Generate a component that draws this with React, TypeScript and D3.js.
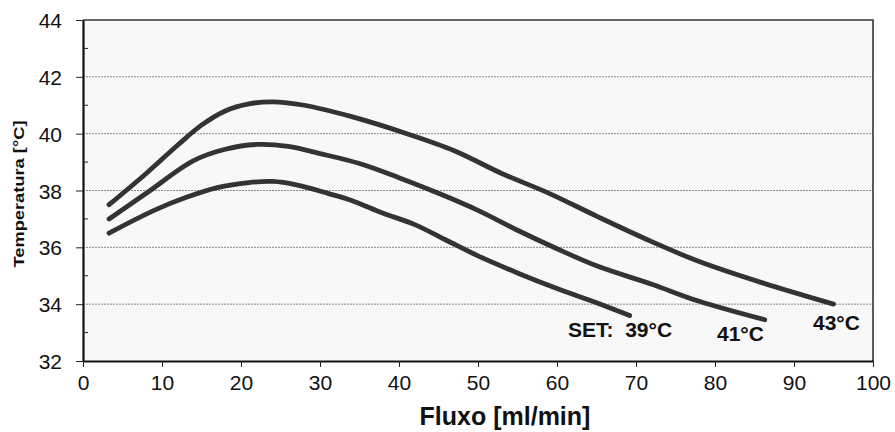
import React, { useRef, useEffect } from "react";
import * as d3 from "d3";

// flow [ml/min] vs temperature [°C], one curve per set point
const set43x = [3.3, 8, 12, 15, 18, 21, 24, 28, 34, 41, 47, 53, 59, 65, 72, 78, 86, 95];
const set43y = [37.5, 38.6, 39.6, 40.3, 40.8, 41.05, 41.12, 41.0, 40.6, 40.0, 39.4, 38.6, 37.9, 37.1, 36.2, 35.5, 34.75, 34.0];

const set41x = [3.3, 8, 14, 18, 22, 26, 30, 35, 40, 45, 50, 55, 60, 65, 72, 78, 86.3];
const set41y = [37.0, 37.9, 39.05, 39.45, 39.62, 39.55, 39.3, 38.95, 38.45, 37.9, 37.3, 36.6, 35.95, 35.35, 34.7, 34.1, 33.45];

const set39x = [3.3, 9, 13, 17, 21, 24, 27, 31, 34, 38, 42, 46, 50, 55, 60, 65, 69.2];
const set39y = [36.5, 37.3, 37.75, 38.1, 38.28, 38.32, 38.2, 37.9, 37.65, 37.2, 36.8, 36.25, 35.7, 35.1, 34.55, 34.05, 33.6];

const xTicks = [0, 10, 20, 30, 40, 50, 60, 70, 80, 90, 100];
const yTicks = [32, 34, 36, 38, 40, 42, 44];
const yMinor = [33, 35, 37, 39, 41, 43];
const gridValues = [34, 36, 38, 40, 42];

const curveLabels = ["SET:  39°C", "41°C", "43°C"];

const W = 895, H = 432;
const left = 83, right = 873, top = 20, bottom = 361;

export default function App() {
  const svgRef = useRef<SVGSVGElement>(null);

  useEffect(() => {
    const svg = d3.select(svgRef.current);
    svg.selectAll("*").remove();

    const x = d3.scaleLinear().domain([0, 100]).range([left, right]);
    const y = d3.scaleLinear().domain([32, 44]).range([bottom, top]);
    const font = "Liberation Sans, Arial, sans-serif";

    svg.append("rect")
      .attr("x", left).attr("y", top)
      .attr("width", right - left).attr("height", bottom - top)
      .attr("fill", "#f8f8f8");

    svg.append("g").selectAll("line").data(gridValues).enter().append("line")
      .attr("x1", left).attr("x2", right)
      .attr("y1", d => y(d)).attr("y2", d => y(d))
      .attr("stroke", "#8a8a8a").attr("stroke-width", 1)
      .attr("stroke-dasharray", "2,1");

    // frame top & right
    svg.append("path")
      .attr("d", `M${left},${top}H${right}V${bottom}`)
      .attr("fill", "none").attr("stroke", "#333").attr("stroke-width", 1.6);

    // x axis
    const xAxis = svg.append("g")
      .attr("transform", `translate(0,${bottom})`)
      .call(d3.axisBottom(x).tickValues(xTicks).tickSize(6).tickSizeOuter(0).tickFormat(d3.format("d")));
    xAxis.select(".domain").attr("stroke", "#111").attr("stroke-width", 2.2);
    xAxis.selectAll(".tick line").attr("stroke", "#222");
    xAxis.selectAll("text")
      .attr("font-family", font).attr("font-size", 21).attr("fill", "#111")
      .attr("y", 14).attr("dy", "0.71em");

    // y axis
    const yAxis = svg.append("g")
      .attr("transform", `translate(${left},0)`)
      .call(d3.axisLeft(y).tickValues(yTicks).tickSize(7).tickSizeOuter(0).tickFormat(d3.format("d")));
    yAxis.select(".domain").attr("stroke", "#111").attr("stroke-width", 2.2);
    yAxis.selectAll(".tick line").attr("stroke", "#222");
    yAxis.selectAll("text")
      .attr("font-family", font).attr("font-size", 21).attr("fill", "#111")
      .attr("x", -21).attr("dy", "0.36em");

    svg.append("g").selectAll("line").data(yMinor).enter().append("line")
      .attr("x1", left).attr("x2", left + 5)
      .attr("y1", d => y(d)).attr("y2", d => y(d))
      .attr("stroke", "#222").attr("stroke-width", 1);

    const line = d3.line<[number, number]>()
      .x(d => x(d[0])).y(d => y(d[1]))
      .curve(d3.curveCatmullRom.alpha(0.5));

    const series = [
      d3.zip(set39x, set39y),
      d3.zip(set41x, set41y),
      d3.zip(set43x, set43y),
    ] as [number, number][][];

    svg.append("g").selectAll("path").data(series).enter().append("path")
      .attr("d", d => line(d))
      .attr("fill", "none")
      .attr("stroke", "#333")
      .attr("stroke-width", 4.8)
      .attr("stroke-linecap", "round")
      .attr("stroke-linejoin", "round");

    const labelPos = [
      { x: 568, y: 337 },
      { x: 717, y: 341 },
      { x: 813, y: 330 },
    ];
    svg.append("g").selectAll("text").data(curveLabels).enter().append("text")
      .attr("x", (d, i) => labelPos[i].x)
      .attr("y", (d, i) => labelPos[i].y)
      .attr("font-family", font).attr("font-size", 21).attr("font-weight", "bold")
      .attr("fill", "#111")
      .style("white-space", "pre")
      .text(d => d);

    svg.append("text")
      .attr("x", (left + right) / 2 + 27).attr("y", 425)
      .attr("text-anchor", "middle")
      .attr("font-family", font).attr("font-size", 25).attr("font-weight", "bold")
      .attr("fill", "#111")
      .text("Fluxo [ml/min]");

    svg.append("text")
      .attr("transform", "translate(24,194) rotate(-90)")
      .attr("text-anchor", "middle")
      .attr("font-family", font).attr("font-size", 15).attr("font-weight", "bold")
      .attr("fill", "#111")
      .attr("textLength", 147).attr("lengthAdjust", "spacingAndGlyphs")
      .text("Temperatura [°C]");
  }, []);

  return (
    <div style={{ position: "absolute", left: 0, top: 0 }}>
      <svg ref={svgRef} width={W} height={H} style={{ display: "block", background: "#fff" }}></svg>
    </div>
  );
}
